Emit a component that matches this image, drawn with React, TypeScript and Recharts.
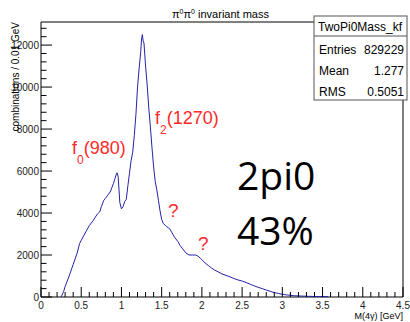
import React from 'react';
import { LineChart, Line, XAxis, YAxis, ReferenceArea } from 'recharts';

// M(4γ) bin centres [GeV] and combinations per 0.01 GeV
const mass = [
  0.25, 0.28, 0.3, 0.35, 0.4, 0.45, 0.48, 0.5, 0.55, 0.6, 0.65, 0.7, 0.73, 0.75, 0.78, 0.8,
  0.83, 0.86, 0.88, 0.9, 0.92, 0.94, 0.95, 0.96, 0.97, 0.98, 1.0, 1.02, 1.04, 1.06, 1.08, 1.1,
  1.12, 1.14, 1.16, 1.18, 1.2, 1.22, 1.24, 1.25, 1.26, 1.27, 1.28, 1.3, 1.32, 1.34, 1.36, 1.38,
  1.4, 1.42, 1.44, 1.46, 1.48, 1.5, 1.52, 1.55, 1.58, 1.6, 1.63, 1.66, 1.7, 1.73, 1.76, 1.8,
  1.84, 1.88, 1.92, 1.95, 1.98, 2.0, 2.04, 2.08, 2.12, 2.16, 2.2, 2.25, 2.3, 2.35, 2.4, 2.45,
  2.5, 2.55, 2.6, 2.65, 2.7, 2.75, 2.8, 2.85, 2.9, 2.95, 3.0, 3.05, 3.1, 3.15, 3.2, 3.3, 3.4,
  3.5, 3.57,
];
const counts = [
  0, 250, 500, 1000, 1550, 2100, 2550, 2700, 3050, 3400, 3650, 3950, 4050, 4300, 4600, 4700,
  4850, 5000, 5200, 5400, 5650, 5900, 5900, 5700, 5100, 4500, 4200, 4300, 4550, 4650, 5300, 5900,
  6500, 6900, 7700, 8700, 10000, 10900, 11700, 12300, 12500, 12200, 12100, 11000, 10100, 9000, 8100, 7100,
  6200, 5500, 5100, 4600, 4100, 3700, 3500, 3400, 3300, 3250, 3050, 2850, 2650, 2450, 2300, 2100,
  2000, 2000, 2000, 1950, 1850, 1780, 1620, 1500, 1380, 1280, 1200, 1100, 1030, 960, 880, 810,
  760, 690, 610, 530, 460, 400, 330, 270, 210, 170, 130, 100, 80, 60, 50, 35, 25,
  20, 15,
];

const xTicks = [
  0, 0.1, 0.2, 0.3, 0.4, 0.5, 0.6, 0.7, 0.8, 0.9, 1, 1.1, 1.2, 1.3, 1.4, 1.5, 1.6, 1.7, 1.8, 1.9,
  2, 2.1, 2.2, 2.3, 2.4, 2.5, 2.6, 2.7, 2.8, 2.9, 3, 3.1, 3.2, 3.3, 3.4, 3.5, 3.6, 3.7, 3.8, 3.9,
  4, 4.1, 4.2, 4.3, 4.4, 4.5,
];
const yTicks = [
  0, 400, 800, 1200, 1600, 2000, 2400, 2800, 3200, 3600, 4000, 4400, 4800, 5200, 5600, 6000,
  6400, 6800, 7200, 7600, 8000, 8400, 8800, 9200, 9600, 10000, 10400, 10800, 11200, 11600, 12000,
  12400, 12800,
];

const statsRows = [
  ['Entries', '829229'],
  ['Mean', '1.277'],
  ['RMS', '0.5051'],
];

const data = mass.map((m, i) => ({ m, count: counts[i] }));

const narrow = '"Liberation Sans Narrow", "Liberation Sans", Arial, sans-serif';
const sans = '"Liberation Sans", Arial, sans-serif';

const XTick = (props: any) => {
  const { x, y, payload } = props;
  const v = payload.value;
  const major = Math.abs(v * 2 - Math.round(v * 2)) < 1e-6;
  return (
    <g>
      <line x1={x} x2={x} y1={y} y2={y - (major ? 10 : 5)} stroke="#000" />
      {major && (
        <text x={x} y={y + 12} textAnchor="middle" fontSize={10} fontFamily={narrow} fill="#222">
          {v}
        </text>
      )}
    </g>
  );
};

const YTick = (props: any) => {
  const { x, y, payload } = props;
  const v = payload.value;
  const major = v % 2000 === 0;
  return (
    <g>
      <line x1={x} x2={x + (major ? 11 : 5.5)} y1={y} y2={y} stroke="#000" />
      {major && (
        <text x={x - 2} y={y} dy={3.5} textAnchor="end" fontSize={10} fontFamily={narrow} fill="#222">
          {v}
        </text>
      )}
    </g>
  );
};

const red = '#ff2a2a';

const App: React.FC = () => {
  return (
    <div style={{ position: 'fixed', left: 0, top: 0, width: 410, height: 322, background: '#fff' }}>
      <LineChart width={410} height={322} data={data} margin={{ top: 22, right: 7, left: 0, bottom: 0 }}>
        <XAxis
          dataKey="m"
          type="number"
          domain={[0, 4.5]}
          ticks={xTicks}
          interval={0}
          height={25}
          tickSize={0}
          tickMargin={0}
          tickLine={false}
          axisLine={false}
          tick={<XTick />}
        />
        <YAxis
          type="number"
          domain={[0, 13100]}
          ticks={yTicks}
          interval={0}
          width={41}
          tickSize={0}
          tickMargin={0}
          tickLine={false}
          axisLine={false}
          tick={<YTick />}
        />
        <ReferenceArea x1={0} x2={4.5} y1={0} y2={13100} fill="none" stroke="#000" strokeWidth={1} />
        <Line
          type="linear"
          dataKey="count"
          stroke="#2323a8"
          strokeWidth={1}
          dot={false}
          isAnimationActive={false}
        />
      </LineChart>
      <svg
        width={410}
        height={322}
        style={{ position: 'absolute', left: 0, top: 0, pointerEvents: 'none' }}
      >
        <text x={172} y={18} fontSize={11} fontFamily={narrow} fill="#000">
          π<tspan dy={-4} fontSize={7}>0</tspan>
          <tspan dy={4}>π</tspan>
          <tspan dy={-4} fontSize={7}>0</tspan>
          <tspan dy={4}> invariant mass</tspan>
        </text>
        <text transform="translate(19,22) rotate(-90)" textAnchor="end" fontSize={10} fontFamily={sans} fill="#000">
          combinations / 0.01 GeV
        </text>
        <text x={403} y={319} textAnchor="end" fontSize={9} fontFamily={narrow} fill="#000">
          M(4γ) [GeV]
        </text>

        <rect x={314} y={16} width={93} height={84} fill="#fff" stroke="#555" />
        <line x1={314} x2={407} y1={36} y2={36} stroke="#555" />
        <text x={360} y={31} textAnchor="middle" fontSize={12} fontFamily={narrow} fill="#000">
          TwoPi0Mass_kf
        </text>
        {statsRows.map(([k, v], i) => (
          <g key={k}>
            <text x={319} y={54 + i * 21} fontSize={12} fontFamily={narrow} fill="#000">
              {k}
            </text>
            <text x={404} y={54 + i * 21} textAnchor="end" fontSize={12} fontFamily={narrow} fill="#000">
              {v}
            </text>
          </g>
        ))}

        <text x={72} y={154} fontSize={18} fontFamily={sans} fill={red}>
          f<tspan dy={10} fontSize={12}>0</tspan>
          <tspan dy={-10}>(980)</tspan>
        </text>
        <text x={155} y={124} fontSize={18} fontFamily={sans} fill={red}>
          f<tspan dy={10} fontSize={12}>2</tspan>
          <tspan dy={-10}>(1270)</tspan>
        </text>
        <text x={168} y={217} fontSize={19} fontFamily={sans} fill={red}>?</text>
        <text x={198} y={250} fontSize={19} fontFamily={sans} fill={red}>?</text>

        <text x={237} y={190} fontSize={39} fontFamily='"Open Sans", sans-serif' fill="#000">2pi0</text>
        <text x={237} y={245} fontSize={39} fontFamily='"Open Sans", sans-serif' fill="#000">43%</text>
      </svg>
    </div>
  );
};

export default App;
